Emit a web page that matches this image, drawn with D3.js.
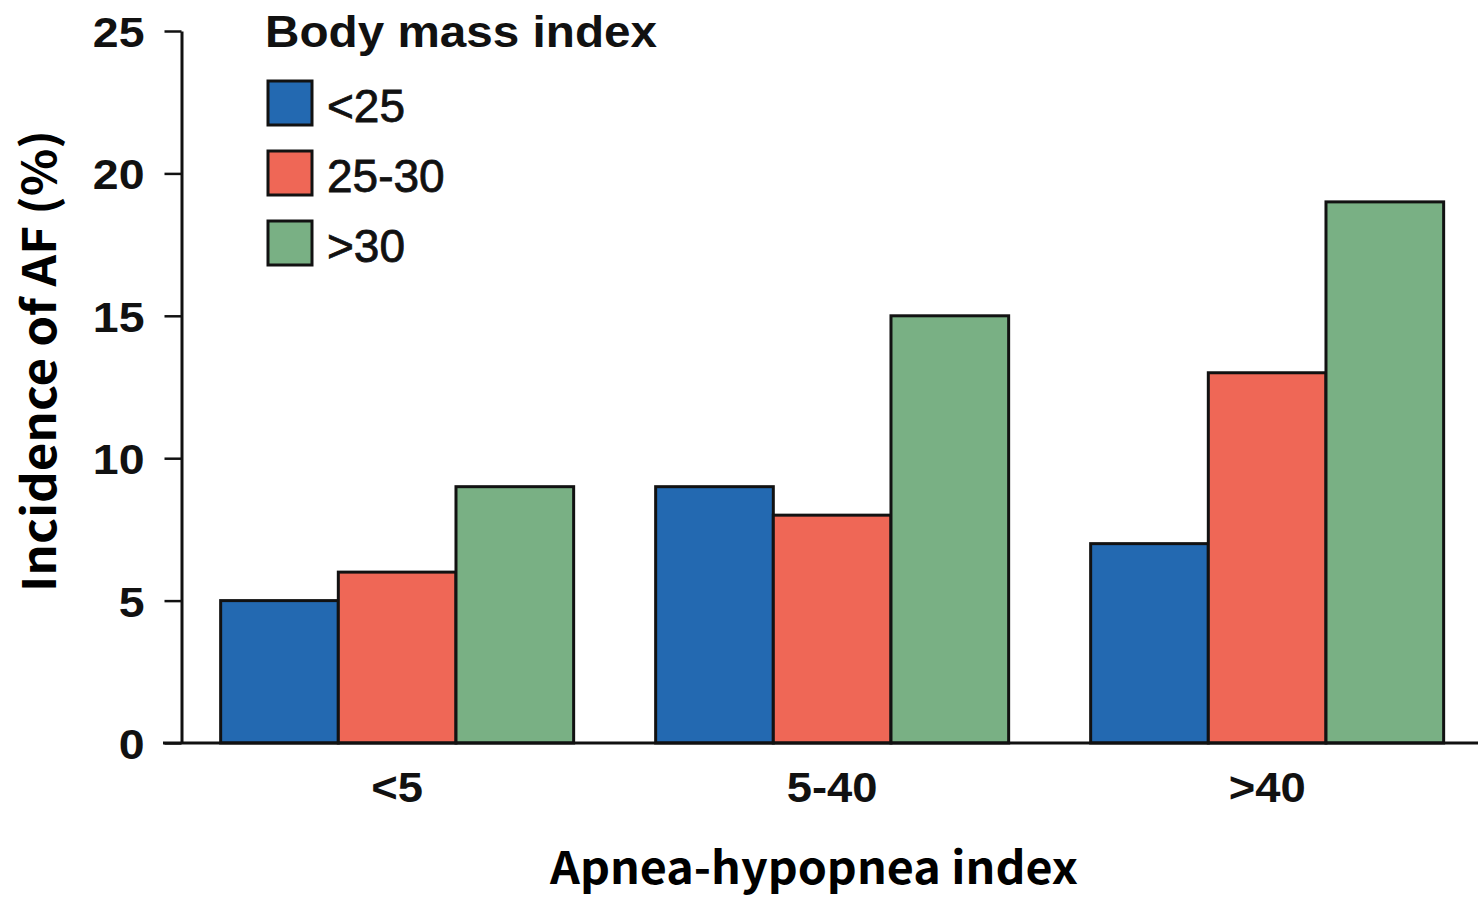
<!DOCTYPE html>
<html>
<head>
<meta charset="utf-8">
<script src="https://cdn.jsdelivr.net/npm/d3@7/dist/d3.min.js"></script>
<style>
  html, body { margin: 0; padding: 0; background: #fff; }
  svg { display: block; }
</style>
</head>
<body>
<svg id="chart" width="1478" height="900"></svg>
<script>
// Incidence of AF by apnea-hypopnea index, split by body mass index
const categories = ["<5", "5-40", ">40"];
const seriesNames = ["<25", "25-30", ">30"];
const seriesBlue = [5, 9, 7];     // BMI <25
const seriesRed = [6, 8, 13];     // BMI 25-30
const seriesGreen = [9, 15, 19];  // BMI >30
const yTicks = [0, 5, 10, 15, 20, 25];

const colors = ["#2369b1", "#ef6756", "#79b084"];
const seriesValues = [seriesBlue, seriesRed, seriesGreen];

const svg = d3.select("#chart");

const y = d3.scaleLinear().domain([0, 25]).range([743, 31]);
const x0 = d3.scaleBand()
  .domain(categories)
  .range([181.5, 1482.8])
  .paddingInner(0.1885)
  .paddingOuter(0.09);
const x1 = d3.scaleBand()
  .domain(d3.range(seriesNames.length))
  .range([0, x0.bandwidth()])
  .padding(0);

// stretch a text element horizontally by a factor
function stretch(sel, k) {
  sel.each(function () {
    const w = this.getComputedTextLength();
    d3.select(this).attr("textLength", w * k).attr("lengthAdjust", "spacingAndGlyphs");
  });
}
// fit a text element to an exact length
function fit(sel, len) {
  sel.attr("textLength", len).attr("lengthAdjust", "spacingAndGlyphs");
}

// bars
const groups = svg.append("g").selectAll("g")
  .data(categories)
  .join("g")
  .attr("transform", d => `translate(${x0(d)},0)`);

groups.selectAll("rect")
  .data((d, i) => seriesValues.map((s, j) => ({ j, v: s[i] })))
  .join("rect")
  .attr("x", d => x1(d.j))
  .attr("y", d => y(d.v))
  .attr("width", x1.bandwidth())
  .attr("height", d => y(0) - y(d.v))
  .attr("fill", d => colors[d.j])
  .attr("stroke", "#121212")
  .attr("stroke-width", 3);

// y axis
const yAxis = svg.append("g")
  .attr("transform", "translate(181.5,0)")
  .call(d3.axisLeft(y).tickValues(yTicks).tickSize(17).tickSizeOuter(0).tickPadding(20));
yAxis.select(".domain").attr("stroke", "#111").attr("stroke-width", 3);
yAxis.selectAll(".tick line").attr("stroke", "#111").attr("stroke-width", 2.5);
yAxis.selectAll(".tick text")
  .attr("fill", "#111")
  .attr("font-family", "'Liberation Sans', Arial, sans-serif")
  .attr("font-weight", "bold")
  .attr("font-size", 43)
  .attr("dy", "0.36em")
  .call(stretch, 1.08);

// x axis baseline (extends past the y axis on the left)
svg.append("line")
  .attr("x1", 163).attr("x2", 1478)
  .attr("y1", y(0)).attr("y2", y(0))
  .attr("stroke", "#111").attr("stroke-width", 3);

// x category labels
const xAxis = svg.append("g")
  .attr("transform", `translate(0,${y(0)})`)
  .call(d3.axisBottom(x0).tickSize(0).tickPadding(0));
xAxis.select(".domain").remove();
xAxis.selectAll(".tick text")
  .attr("fill", "#111")
  .attr("font-family", "'Liberation Sans', Arial, sans-serif")
  .attr("font-weight", "bold")
  .attr("font-size", 42)
  .attr("dy", 0)
  .attr("y", 59)
  .call(stretch, 1.08);

// legend
const legend = svg.append("g");
legend.append("text")
  .attr("x", 265).attr("y", 47)
  .attr("font-family", "'Liberation Sans', Arial, sans-serif")
  .attr("font-weight", "bold")
  .attr("font-size", 44)
  .attr("fill", "#111")
  .text("Body mass index")
  .call(fit, 392);

const items = legend.selectAll("g.item")
  .data(seriesNames)
  .join("g")
  .attr("class", "item")
  .attr("transform", (d, i) => `translate(268,${81 + i * 70})`);
items.append("rect")
  .attr("width", 44).attr("height", 44)
  .attr("fill", (d, i) => colors[i])
  .attr("stroke", "#121212").attr("stroke-width", 3);
items.append("text")
  .attr("x", 59).attr("y", 41)
  .attr("font-family", "'Liberation Sans', Arial, sans-serif")
  .attr("font-size", 46)
  .attr("fill", "#111")
  .attr("stroke", "#111").attr("stroke-width", 0.8)
  .text(d => d);

// axis titles
svg.append("text")
  .attr("transform", "translate(56,361) rotate(-90)")
  .attr("text-anchor", "middle")
  .attr("font-family", "'Noto Sans CJK KR', 'Noto Sans', sans-serif")
  .attr("font-weight", "bold")
  .attr("font-size", 46)
  .attr("fill", "#000")
  .text("Incidence of AF (%)")
  .call(fit, 462);

svg.append("text")
  .attr("x", 814).attr("y", 884)
  .attr("text-anchor", "middle")
  .attr("font-family", "'Noto Sans CJK KR', 'Noto Sans', sans-serif")
  .attr("font-weight", "bold")
  .attr("font-size", 45)
  .attr("fill", "#000")
  .text("Apnea-hypopnea index")
  .call(fit, 528);
</script>
</body>
</html>
